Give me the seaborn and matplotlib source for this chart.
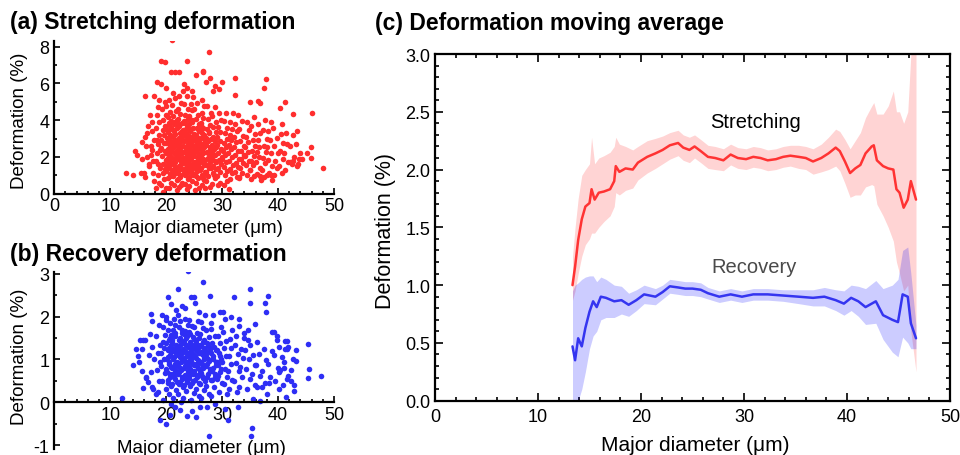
import matplotlib
matplotlib.use("Agg")
import numpy as np
import pandas as pd
import matplotlib.pyplot as plt
import seaborn as sns
from matplotlib.ticker import MultipleLocator, FormatStrFormatter

# ---------------- (a) stretching deformation scatter: (major diameter um, deformation %)
stretch_pts = [
    (12.8,1.11),(14.1,1.04),(14.5,2.32),(14.8,2.1),(15.6,2.79),(16.3,3.11),(15.7,1.9),(15.5,1.1),
    (16.3,5.33),(16.1,1.1),(16.5,2.0),(16.8,3.7),(16.4,2.6),(16.9,1.5),(16.6,3.3),(16.3,0.9),
    (17.0,1.6),(17.3,2.6),(17.5,3.4),(17.8,5.33),(17.6,1.1),(17.2,2.1),(17.9,2.9),(17.4,3.9),
    (17.7,1.8),(17.1,4.3),(17.8,0.7),(17.5,2.4),
    (18.2,0.3),(19.4,0.1),(18.4,6.06),(19.0,5.95),(20.0,5.73),(18.6,4.7),(18.3,2.2),(18.7,3.9),
    (18.9,1.4),(18.1,1.8),(18.5,2.7),(18.8,3.2),(18.2,3.6),(18.6,1.0),(18.4,4.3),(18.9,2.4),
    (18.7,0.6),(18.3,2.95),(18.5,1.6),(18.8,5.1),
    (21.0,8.35),(27.7,7.7),(19.0,7.2),(19.7,7.15),(23.8,7.2),(20.8,6.65),(21.5,6.6),(22.3,6.6),
    (25.3,6.45),(26.5,6.7),(26.6,6.6),(32.3,6.31),(27.9,6.3),(27.2,6.1),(30.0,6.06),(37.9,6.24),
    (37.5,5.77),(23.2,5.95),(23.8,5.77),(24.7,5.59),(28.3,5.59),(29.5,5.7),(28.7,5.88),(32.3,5.37),
    (34.9,5.0),(36.5,5.04),(36.8,4.93),(41.2,5.0),(40.4,4.64),(46.1,4.39),(42.6,4.35),(43.4,3.41),
    (45.9,2.54),(45.9,1.96),(48.1,1.38),(31.3,0.27),
    (43.9,2.21),(45.2,2.21),(44.3,1.9),(42.7,1.8),(42.1,1.71),(43.6,1.62),(38.7,1.04),(38.1,1.0),
    (36.7,0.95),(36.9,0.77),(35.1,0.82),(33.0,0.9),
    (19.9,0.3),(22.6,0.45),(25.2,0.2),(27.0,0.3),(29.2,0.45),(30.3,0.5),
    (19.15,0.45),(19.65,0.8),(19.35,1.1),(19.85,1.35),(19.45,1.6),(19.95,1.85),(19.25,2.05),
    (19.75,2.3),(19.05,2.5),(19.55,2.75),(19.15,2.95),(19.65,3.2),(19.35,3.45),(19.85,3.7),
    (19.45,4.0),(19.95,4.3),(19.25,4.6),(19.75,5.0),
    (20.45,0.3),(20.95,0.6),(20.25,0.85),(20.75,1.05),(20.05,1.25),(20.55,1.4),(20.15,1.55),
    (20.65,1.7),(20.35,1.85),(20.85,2.0),(20.45,2.15),(20.95,2.3),(20.25,2.45),(20.75,2.6),
    (20.05,2.75),(20.55,2.9),(20.15,3.05),(20.65,3.2),(20.35,3.35),(20.85,3.55),(20.45,3.75),
    (20.95,3.95),(20.25,4.2),(20.75,4.45),(20.05,4.75),(20.55,5.1),
    (20.7,0.95),(20.2,1.33),(20.9,1.62),(20.4,1.93),(20.0,2.22),(20.6,2.52),(20.3,2.82),
    (20.8,3.12),(20.1,3.45),(20.5,3.85),
    (21.85,0.2),(21.45,0.5),(21.95,0.75),(21.25,0.95),(21.75,1.15),(21.05,1.3),(21.55,1.45),
    (21.15,1.6),(21.65,1.75),(21.35,1.9),(21.85,2.05),(21.45,2.2),(21.95,2.35),(21.25,2.5),
    (21.75,2.65),(21.05,2.8),(21.55,2.95),(21.15,3.1),(21.65,3.25),(21.35,3.4),(21.85,3.6),
    (21.45,3.8),(21.95,4.0),(21.25,4.25),(21.75,4.5),(21.05,4.85),(21.55,5.2),(21.15,5.5),
    (21.3,1.05),(21.8,1.37),(21.1,1.68),(21.6,1.97),(21.9,2.27),(21.2,2.57),(21.7,2.87),
    (21.4,3.17),(21.0,3.5),(21.5,3.9),
    (22.25,0.35),(22.75,0.6),(22.05,0.82),(22.55,1.02),(22.15,1.22),(22.65,1.37),(22.35,1.52),
    (22.85,1.67),(22.45,1.82),(22.95,1.97),(22.25,2.12),(22.75,2.27),(22.05,2.42),(22.55,2.57),
    (22.15,2.72),(22.65,2.87),(22.35,3.02),(22.85,3.17),(22.45,3.32),(22.95,3.47),(22.25,3.67),
    (22.75,3.87),(22.05,4.07),(22.55,4.32),(22.15,4.6),(22.65,4.95),(22.35,5.3),
    (22.5,0.92),(22.0,1.3),(22.7,1.6),(22.3,1.9),(22.9,2.2),(22.4,2.5),(22.1,2.8),(22.6,3.1),
    (22.8,3.4),(22.2,3.77),
    (23.65,0.25),(23.35,0.55),(23.85,0.8),(23.45,1.0),(23.95,1.2),(23.25,1.35),(23.75,1.5),
    (23.05,1.65),(23.55,1.8),(23.15,1.95),(23.65,2.1),(23.35,2.25),(23.85,2.4),(23.45,2.55),
    (23.95,2.7),(23.25,2.85),(23.75,3.0),(23.05,3.15),(23.55,3.3),(23.15,3.45),(23.65,3.65),
    (23.35,3.85),(23.85,4.05),(23.45,4.3),(23.95,4.6),(23.25,4.9),(23.75,5.3),(23.05,5.6),
    (23.1,1.1),(23.6,1.42),(23.3,1.72),(23.8,2.02),(23.5,2.32),(23.0,2.62),(23.9,2.92),
    (23.4,3.22),(23.7,3.55),(23.2,3.95),
    (24.05,0.4),(24.55,0.7),(24.15,0.92),(24.65,1.1),(24.35,1.28),(24.85,1.43),(24.45,1.58),
    (24.95,1.73),(24.25,1.88),(24.75,2.03),(24.05,2.18),(24.55,2.33),(24.15,2.48),(24.65,2.63),
    (24.35,2.78),(24.85,2.93),(24.45,3.08),(24.95,3.23),(24.25,3.4),(24.75,3.6),(24.05,3.8),
    (24.55,4.0),(24.15,4.25),(24.65,4.55),(24.35,4.9),(24.85,5.25),
    (24.8,1.0),(24.3,1.35),(24.0,1.65),(24.5,1.95),(24.2,2.25),(24.9,2.55),(24.6,2.85),
    (24.1,3.15),(24.4,3.5),(24.7,3.9),
    (25.95,0.3),(25.25,0.6),(25.75,0.85),(25.05,1.05),(25.55,1.25),(25.15,1.4),(25.65,1.55),
    (25.35,1.7),(25.85,1.85),(25.45,2.0),(25.95,2.15),(25.25,2.3),(25.75,2.45),(25.05,2.6),
    (25.55,2.75),(25.15,2.9),(25.65,3.05),(25.35,3.2),(25.85,3.4),(25.45,3.6),(25.95,3.8),
    (25.25,4.05),(25.75,4.3),(25.05,4.6),(25.55,4.95),
    (25.4,0.95),(25.9,1.32),(25.2,1.62),(25.7,1.92),(25.0,2.22),(25.5,2.52),(25.8,2.82),
    (25.3,3.12),(25.6,3.5),
    (26.35,0.45),(26.85,0.75),(26.45,1.0),(26.95,1.2),(26.25,1.38),(26.75,1.55),(26.05,1.72),
    (26.55,1.88),(26.15,2.04),(26.65,2.2),(26.35,2.36),(26.85,2.52),(26.45,2.68),(26.95,2.85),
    (26.25,3.02),(26.75,3.2),(26.05,3.4),(26.55,3.6),(26.15,3.85),(26.65,4.1),(26.35,4.4),
    (26.85,4.75),(26.45,5.1),
    (26.6,0.88),(26.1,1.3),(26.8,1.63),(26.3,1.96),(26.5,2.28),(26.0,2.6),(26.9,2.93),
    (26.4,3.3),(26.2,3.72),
    (27.75,0.35),(27.05,0.7),(27.55,0.95),(27.15,1.18),(27.65,1.38),(27.35,1.57),(27.85,1.75),
    (27.45,1.93),(27.95,2.1),(27.25,2.28),(27.75,2.46),(27.05,2.65),(27.55,2.85),(27.15,3.05),
    (27.65,3.28),(27.35,3.5),(27.85,3.75),(27.45,4.05),(27.95,4.4),(27.25,4.8),
    (27.2,1.05),(27.7,1.47),(27.0,1.84),(27.5,2.19),(27.9,2.55),(27.4,2.95),(27.6,3.38),
    (28.15,0.55),(28.65,0.85),(28.35,1.1),(28.85,1.32),(28.45,1.52),(28.95,1.72),(28.25,1.9),
    (28.75,2.08),(28.05,2.27),(28.55,2.46),(28.15,2.66),(28.65,2.88),(28.35,3.1),(28.85,3.35),
    (28.45,3.62),(28.95,3.9),(28.25,4.25),(28.75,4.7),
    (28.5,1.0),(28.0,1.42),(28.7,1.8),(28.3,2.17),(28.9,2.56),(28.1,2.98),
    (29.55,0.6),(29.15,0.95),(29.65,1.2),(29.35,1.42),(29.85,1.63),(29.45,1.83),(29.95,2.02),
    (29.25,2.22),(29.75,2.42),(29.05,2.63),(29.55,2.85),(29.15,3.1),(29.65,3.35),(29.35,3.65),
    (29.85,4.0),(29.45,4.4),
    (30.85,0.7),(30.45,1.0),(30.95,1.25),(30.25,1.48),(30.75,1.7),(30.05,1.9),(30.55,2.1),
    (30.15,2.3),(30.65,2.52),(30.35,2.75),(30.85,3.0),(30.45,3.28),(30.95,3.6),(30.25,3.95),
    (30.75,4.4),
    (31.35,0.8),(31.85,1.1),(31.45,1.35),(31.95,1.58),(31.25,1.8),(31.75,2.0),(31.05,2.2),
    (31.55,2.42),(31.15,2.65),(31.65,2.9),(31.35,3.18),(31.85,3.5),(31.45,3.9),(31.95,4.4),
    (32.65,0.9),(32.35,1.2),(32.85,1.45),(32.45,1.68),(32.95,1.9),(32.25,2.1),(32.75,2.32),
    (32.05,2.55),(32.55,2.8),(32.15,3.08),(32.65,3.4),(32.35,3.8),(32.85,4.3),
    (33.05,0.85),(33.55,1.15),(33.15,1.42),(33.65,1.65),(33.35,1.88),(33.85,2.1),(33.45,2.33),
    (33.95,2.58),(33.25,2.85),(33.75,3.15),(33.05,3.5),(33.55,3.95),
    (34.45,1.0),(34.95,1.3),(34.25,1.55),(34.75,1.8),(34.05,2.03),(34.55,2.27),(34.15,2.52),
    (34.65,2.8),(34.35,3.1),(34.85,3.45),(34.45,3.9),
    (35.75,0.95),(35.05,1.28),(35.55,1.55),(35.15,1.8),(35.65,2.05),(35.35,2.3),(35.85,2.58),
    (35.45,2.9),(35.95,3.25),(35.25,3.7),(35.75,4.2),
    (36.25,1.05),(36.75,1.4),(36.05,1.7),(36.55,1.98),(36.15,2.25),(36.65,2.55),(36.35,2.9),
    (36.85,3.3),(36.45,3.8),
    (37.55,0.9),(37.15,1.3),(37.65,1.65),(37.35,1.95),(37.85,2.25),(37.45,2.6),(37.95,3.0),
    (37.25,3.45),(37.75,4.0),
    (38.85,0.75),(38.45,1.15),(38.95,1.5),(38.25,1.85),(38.75,2.2),(38.05,2.55),(38.55,2.95),
    (38.15,3.4),(38.65,3.9),
    (39.35,1.0),(39.85,1.4),(39.45,1.8),(39.95,2.2),(39.25,2.6),(39.75,3.05),(39.05,3.6),
    (40.65,1.1),(40.15,1.5),(40.85,1.9),(40.35,2.3),(40.95,2.75),(40.45,3.25),(40.75,3.8),
    (41.25,1.3),(41.75,1.75),(41.05,2.2),(41.55,2.7),(41.35,3.3),
    (42.45,1.6),(42.85,2.0),(42.15,2.6),(42.65,3.2),
    (43.35,1.5),(43.75,1.9),(43.15,2.7),
]

# ---------------- (b) recovery deformation scatter
recovery_pts = [
    (23.9,3.06),(26.5,2.82),(22.1,2.64),(34.9,2.64),(20.3,2.47),(24.4,2.46),(24.9,2.46),(27.9,2.49),
    (32.2,2.46),(38.2,2.49),(37.7,2.33),(35.0,2.33),(25.2,2.32),(20.9,2.29),(37.9,2.12),(17.3,2.06),
    (29.7,2.12),(30.2,2.12),(45.4,1.36),(45.6,0.78),(45.4,0.57),(47.6,0.62),(43.2,0.96),(42.9,0.4),
    (42.9,0.26),(12.1,0.1),(14.0,0.87),(14.6,1.25),(15.8,1.45),(19.9,-0.5),(18.9,-0.41),(20.6,-0.3),
    (23.8,-0.33),(27.6,-0.78),(35.3,-0.6),(35.2,-0.79),(26.1,-0.12),(27.3,-0.1),(32.9,-0.1),
    (31.0,-0.42),(22.4,-0.18),
    (33.0,1.95),(33.0,1.78),(34.0,1.61),(34.6,1.7),(35.8,1.83),(38.9,1.64),(39.3,1.64),(39.8,1.55),
    (41.3,1.44),(41.6,1.44),(41.3,1.24),(41.6,1.24),(43.2,1.22),(42.3,0.76),(41.1,0.79),(40.1,0.7),
    (41.7,0.61),(40.2,0.31),(41.4,0.12),(38.0,0.19),(37.2,0.36),(36.7,0.04),(35.5,0.08),
    (15.4,1.46),(15.7,1.24),(14.9,1.07),(15.2,0.95),(15.7,0.72),(16.4,0.56),(16.7,0.47),(17.5,0.36),
    (18.5,0.25),(15.9,0.33),
    (21.8,2.15),(23.3,2.2),(25.8,2.1),(28.3,2.05),(30.6,1.95),(31.6,2.0),(26.9,2.05),(19.2,2.05),
    (22.8,2.25),(24.7,-0.2),(28.8,-0.05),(30.5,-0.15),(21.5,-0.1),(25.4,-0.35),
    (16.45,0.6),(16.85,1.1),(16.25,1.45),
    (17.65,0.3),(17.25,0.7),(17.85,1.0),(17.45,1.3),(17.05,1.6),(17.55,1.9),
    (18.15,0.2),(18.65,0.5),(18.35,0.75),(18.85,0.95),(18.45,1.15),(18.95,1.35),(18.25,1.55),(18.75,1.8),
    (19.45,0.05),(19.95,0.3),(19.25,0.5),(19.75,0.68),(19.05,0.84),(19.55,1.0),(19.15,1.14),
    (19.65,1.28),(19.35,1.42),(19.85,1.58),(19.45,1.75),(19.95,1.92),
    (20.85,-0.05),(20.45,0.2),(20.95,0.38),(20.25,0.52),(20.75,0.65),(20.05,0.77),(20.55,0.89),
    (20.15,1.0),(20.65,1.11),(20.35,1.22),(20.85,1.33),(20.45,1.45),(20.95,1.57),(20.25,1.7),
    (20.75,1.85),(20.05,2.0),
    (20.35,0.45),(20.65,0.58),(20.15,0.71),(20.85,0.83),(20.45,0.95),(20.25,1.06),(20.95,1.17),
    (20.55,1.28),(20.05,1.39),(20.75,1.51),
    (21.25,0.1),(21.75,0.28),(21.05,0.42),(21.55,0.54),(21.15,0.65),(21.65,0.75),(21.35,0.85),
    (21.85,0.95),(21.45,1.05),(21.95,1.15),(21.25,1.25),(21.75,1.35),(21.05,1.45),(21.55,1.56),
    (21.15,1.68),(21.65,1.8),(21.35,1.95),
    (21.85,0.48),(21.35,0.6),(21.95,0.7),(21.05,0.8),(21.6,0.9),(21.2,1.0),(21.7,1.1),(21.4,1.2),
    (21.9,1.3),(21.1,1.4),(21.5,1.62),
    (22.65,0.0),(22.15,0.2),(22.95,0.35),(22.45,0.48),(22.75,0.6),(22.25,0.7),(22.55,0.8),
    (22.05,0.9),(22.85,1.0),(22.35,1.1),(22.65,1.2),(22.15,1.3),(22.95,1.4),(22.45,1.5),
    (22.75,1.62),(22.25,1.75),(22.55,1.9),(22.05,2.05),
    (22.3,0.42),(22.8,0.54),(22.1,0.65),(22.6,0.75),(22.2,0.85),(22.7,0.95),(22.4,1.05),(22.9,1.15),
    (22.0,1.25),(22.5,1.35),(22.25,1.45),(22.85,1.7),
    (23.05,0.1),(23.55,0.27),(23.15,0.41),(23.65,0.53),(23.35,0.64),(23.85,0.74),(23.45,0.84),
    (23.95,0.94),(23.25,1.04),(23.75,1.14),(23.05,1.24),(23.55,1.34),(23.15,1.44),(23.65,1.55),
    (23.35,1.67),(23.85,1.8),(23.45,1.95),
    (23.8,0.47),(23.3,0.58),(23.9,0.69),(23.1,0.79),(23.6,0.89),(23.2,0.99),(23.7,1.09),(23.4,1.19),
    (23.9,1.29),(23.0,1.39),(23.5,1.5),(23.2,1.6),
    (24.45,0.05),(24.95,0.22),(24.25,0.37),(24.75,0.5),(24.05,0.62),(24.55,0.72),(24.15,0.82),
    (24.65,0.92),(24.35,1.02),(24.85,1.12),(24.45,1.22),(24.95,1.32),(24.25,1.42),(24.75,1.53),
    (24.05,1.65),(24.55,1.78),(24.15,1.92),
    (24.6,0.44),(24.1,0.56),(24.8,0.67),(24.3,0.77),(24.9,0.87),(24.0,0.97),(24.5,1.07),(24.2,1.17),
    (24.7,1.27),(24.4,1.37),(24.9,1.48),(24.3,1.59),
    (25.85,0.15),(25.35,0.32),(25.95,0.46),(25.45,0.58),(25.05,0.69),(25.65,0.79),(25.25,0.89),
    (25.75,0.99),(25.15,1.09),(25.55,1.19),(25.85,1.29),(25.35,1.39),(25.95,1.5),(25.45,1.62),
    (25.05,1.75),(25.65,1.9),
    (25.2,0.52),(25.7,0.63),(25.0,0.74),(25.5,0.84),(25.9,0.94),(25.3,1.04),(25.8,1.14),(25.1,1.24),
    (25.6,1.34),(25.4,1.45),
    (26.25,0.1),(26.75,0.28),(26.05,0.43),(26.55,0.56),(26.15,0.68),(26.65,0.79),(26.35,0.9),
    (26.85,1.01),(26.45,1.12),(26.95,1.23),(26.25,1.34),(26.75,1.46),(26.05,1.59),(26.55,1.73),
    (26.15,1.88),
    (26.9,0.5),(26.4,0.62),(26.0,0.73),(26.6,0.84),(26.2,0.95),(26.7,1.06),(26.3,1.17),(26.8,1.28),
    (26.5,1.4),
    (27.65,0.2),(27.15,0.38),(27.95,0.53),(27.45,0.66),(27.75,0.78),(27.25,0.9),(27.55,1.02),
    (27.05,1.14),(27.85,1.26),(27.35,1.39),(27.65,1.53),(27.15,1.68),(27.95,1.85),
    (27.3,0.6),(27.8,0.72),(27.1,0.84),(27.6,0.96),(27.2,1.08),(27.9,1.2),(27.4,1.32),
    (28.05,0.15),(28.55,0.35),(28.15,0.52),(28.65,0.67),(28.35,0.81),(28.85,0.95),(28.45,1.09),
    (28.95,1.23),(28.25,1.38),(28.75,1.54),(28.05,1.72),
    (28.7,0.6),(28.2,0.74),(28.9,0.88),(28.4,1.02),(28.1,1.16),(28.6,1.3),
    (29.45,0.25),(29.95,0.45),(29.25,0.62),(29.75,0.78),(29.05,0.93),(29.55,1.08),(29.15,1.23),
    (29.65,1.39),(29.35,1.56),(29.85,1.75),
    (29.1,0.55),(29.6,0.7),(29.3,0.86),(29.8,1.0),(29.4,1.15),
    (30.85,0.2),(30.35,0.42),(30.95,0.6),(30.45,0.77),(30.05,0.93),(30.65,1.09),(30.25,1.26),
    (30.75,1.44),(30.15,1.65),
    (31.25,0.3),(31.75,0.52),(31.05,0.72),(31.55,0.9),(31.15,1.08),(31.65,1.27),(31.35,1.48),(31.85,1.7),
    (32.65,0.25),(32.15,0.5),(32.95,0.72),(32.45,0.92),(32.75,1.12),(32.25,1.33),(32.55,1.56),
    (33.05,0.35),(33.55,0.6),(33.15,0.82),(33.65,1.03),(33.35,1.25),(33.85,1.5),
    (34.45,0.3),(34.95,0.55),(34.25,0.78),(34.75,1.0),(34.05,1.22),(34.55,1.45),
    (35.85,0.4),(35.35,0.65),(35.95,0.88),(35.45,1.1),(35.05,1.35),
    (36.25,0.35),(36.75,0.62),(36.05,0.87),(36.55,1.12),(36.15,1.4),
    (37.65,0.45),(37.15,0.72),(37.85,0.98),(37.45,1.25),
    (38.55,0.6),(38.15,0.9),(38.85,1.2),(38.35,0.45),
    (39.45,0.5),(39.95,0.8),(39.25,1.1),(39.75,1.45),
    (40.85,0.4),(40.35,0.75),(40.65,1.05),(40.15,1.3),
    (41.55,0.55),(41.05,0.95),(41.85,1.3),
    (42.35,0.5),(42.75,1.0),
]

# ---------------- (c) moving averages with bands
ma_stretch_d = [13.35, 13.6, 13.9, 14.25, 14.6, 15.0, 15.2, 15.5, 15.9, 16.4, 17.0, 17.4, 17.55, 17.9,
                18.5, 19.2, 19.7, 20.6, 21.4, 22.1, 22.8, 23.6, 24.1, 24.7, 25.2, 25.8, 26.5, 27.2,
                28.0, 28.7, 29.4, 30.2, 30.9, 31.6, 32.3, 33.1, 33.8, 34.5, 35.3, 36.0, 36.7, 37.5,
                38.2, 38.9, 39.3, 39.8, 40.3, 40.8, 41.3, 41.8, 42.4, 42.6, 42.9, 43.5, 44.0, 44.5,
                44.8, 45.1, 45.5, 45.9, 46.2, 46.7]
ma_stretch = [1.00, 1.16, 1.39, 1.57, 1.68, 1.71, 1.83, 1.74, 1.80, 1.81, 1.83, 1.90, 2.03, 1.98,
              2.01, 2.00, 2.06, 2.11, 2.14, 2.17, 2.21, 2.23, 2.19, 2.17, 2.20, 2.16, 2.11, 2.10,
              2.08, 2.13, 2.10, 2.09, 2.11, 2.10, 2.08, 2.09, 2.11, 2.12, 2.11, 2.10, 2.07, 2.10,
              2.14, 2.19, 2.16, 2.07, 1.97, 2.01, 2.04, 2.14, 2.20, 2.21, 2.08, 2.03, 2.01, 2.00,
              1.83, 1.80, 1.67, 1.74, 1.90, 1.74]
ma_stretch_lo = [0.87, 0.95, 1.1, 1.25, 1.35, 1.4, 1.45, 1.45, 1.5, 1.55, 1.6, 1.68, 1.8, 1.78,
                 1.82, 1.84, 1.91, 1.97, 2.01, 2.05, 2.09, 2.12, 2.08, 2.06, 2.1, 2.06, 2.01, 2.0,
                 1.99, 2.04, 2.01, 2.0, 2.02, 2.01, 1.99, 2.0, 2.02, 2.03, 2.01, 2.0, 1.96, 1.98,
                 2.0, 2.03, 1.99, 1.88, 1.76, 1.78, 1.78, 1.85, 1.87, 1.86, 1.7, 1.6, 1.5, 1.38,
                 1.2, 1.1, 0.95, 1.0, 0.6, 0.25]
ma_stretch_hi = [1.25, 1.5, 1.75, 1.95, 2.0, 2.05, 2.28, 2.05, 2.1, 2.12, 2.15, 2.2, 2.28, 2.22,
                 2.2, 2.17, 2.2, 2.25, 2.27, 2.29, 2.32, 2.34, 2.3, 2.28, 2.3, 2.26, 2.21, 2.2,
                 2.18, 2.22, 2.19, 2.18, 2.2, 2.19, 2.17, 2.18, 2.2, 2.21, 2.21, 2.2, 2.18, 2.22,
                 2.28, 2.35, 2.33, 2.26, 2.18, 2.25, 2.32, 2.45, 2.55, 2.58, 2.48, 2.48, 2.55, 2.68,
                 2.5, 2.5, 2.4, 2.5, 3.0, 3.2]

ma_recov_d = [13.35, 13.6, 13.9, 14.25, 14.6, 15.0, 15.35, 15.7, 16.1, 16.6, 17.4, 18.1, 18.8, 19.55,
              20.3, 21.4, 22.1, 22.8, 23.6, 24.3, 25.0, 25.8, 26.5, 27.6, 28.7, 29.8, 30.9, 32.3,
              33.8, 35.3, 36.7, 37.8, 38.9, 39.7, 40.4, 41.1, 41.8, 42.8, 43.5, 44.4, 44.95, 45.4,
              45.9, 46.2, 46.7]
ma_recov = [0.47, 0.35, 0.54, 0.47, 0.63, 0.77, 0.86, 0.81, 0.90, 0.89, 0.86, 0.87, 0.83, 0.87,
            0.92, 0.90, 0.94, 0.99, 0.98, 0.97, 0.97, 0.96, 0.93, 0.90, 0.92, 0.90, 0.92, 0.92,
            0.91, 0.90, 0.89, 0.90, 0.87, 0.84, 0.89, 0.86, 0.81, 0.86, 0.74, 0.70, 0.68, 0.92,
            0.90, 0.67, 0.54]
ma_recov_lo = [0.0, 0.0, 0.0, 0.1, 0.25, 0.45, 0.56, 0.6, 0.7, 0.72, 0.72, 0.75, 0.73, 0.78,
               0.84, 0.83, 0.88, 0.93, 0.92, 0.91, 0.91, 0.9, 0.88, 0.85, 0.87, 0.85, 0.87, 0.87,
               0.86, 0.84, 0.82, 0.82, 0.78, 0.74, 0.78, 0.73, 0.66, 0.67, 0.53, 0.42, 0.38, 0.55,
               0.5, 0.45, 0.45]
ma_recov_hi = [0.95, 1.0, 1.02, 1.05, 1.07, 1.08, 1.08, 1.03, 1.07, 1.05, 1.0, 0.99, 0.93, 0.96,
               1.0, 0.97, 1.0, 1.05, 1.04, 1.03, 1.03, 1.02, 0.98, 0.95, 0.97, 0.95, 0.97, 0.97,
               0.96, 0.96, 0.96, 0.98, 0.96, 0.95, 1.0, 0.99, 0.97, 1.04, 0.97, 1.0, 1.05, 1.3,
               1.33, 1.1, 0.65]

x_major = [0, 10, 20, 30, 40, 50]
a_xticklabels = ["0", "10", "20", "30", "40", "50"]
b_xticklabels = ["", "10", "20", "30", "40", "50"]
a_yticks = [0, 2, 4, 6, 8]
b_yticks = [-1, 0, 1, 2, 3]

# ---------------- styling
sns.set_style("ticks")
plt.rcParams['font.family'] = ['Liberation Sans', 'DejaVu Sans']
plt.rcParams['axes.unicode_minus'] = False
plt.rcParams['text.color'] = 'black'
plt.rcParams['axes.labelcolor'] = 'black'
plt.rcParams['xtick.color'] = 'black'
plt.rcParams['ytick.color'] = 'black'

RED_PT = '#ff2e2e'
BLUE_PT = '#2e2ef5'
RED_LN = '#ff3333'
BLUE_LN = '#3535f0'

W, H = 960.0, 456.0
fig = plt.figure(figsize=(9.6, 4.56), dpi=100)
fig.patch.set_facecolor('white')

axA = fig.add_axes([54.3 / W, 1 - 194.7 / H, 279.7 / W, 153.0 / H])
axB = fig.add_axes([54.3 / W, 1 - 450.0 / H, 279.7 / W, 177.3 / H])
axC = fig.add_axes([435.0 / W, 1 - 401.7 / H, 515.0 / W, 346.7 / H])

dfA = pd.DataFrame(stretch_pts, columns=['d', 'v'])
dfB = pd.DataFrame(recovery_pts, columns=['d', 'v'])
sns.scatterplot(data=dfA, x='d', y='v', ax=axA, color=RED_PT, s=16, linewidth=0, legend=False)
sns.scatterplot(data=dfB, x='d', y='v', ax=axB, color=BLUE_PT, s=16, linewidth=0, legend=False)


def style_scatter(ax, ylim, yticks, yminor, xlabels):
    ax.set_xlim(0, 50)
    ax.set_ylim(*ylim)
    for s in ['top', 'right']:
        ax.spines[s].set_visible(False)
    for s in ['left', 'bottom']:
        ax.spines[s].set_linewidth(1.6)
        ax.spines[s].set_color('black')
    ax.set_xticks(x_major)
    ax.set_xticklabels(xlabels)
    ax.xaxis.set_minor_locator(MultipleLocator(2))
    ax.set_yticks(yticks)
    ax.yaxis.set_minor_locator(MultipleLocator(yminor))
    ax.tick_params(which='both', direction='in', labelsize=13, width=1.2, colors='black')
    ax.tick_params(which='major', length=4)
    ax.tick_params(which='minor', length=2.2)
    ax.tick_params(axis='x', pad=2.5)
    ax.tick_params(axis='y', pad=3.5)
    ax.set_xlabel('Major diameter (μm)', fontsize=13.5, color='black')
    ax.set_ylabel('Deformation (%)', fontsize=13.5, color='black')
    ax.xaxis.label.set_verticalalignment('center')
    ax.yaxis.label.set_verticalalignment('center')


style_scatter(axA, (0, 8.33), a_yticks, 1, a_xticklabels)
axA.xaxis.set_label_coords(0.514, -0.218)
axA.yaxis.set_label_coords(-0.123, 0.482)

style_scatter(axB, (-1.09, 3.05), b_yticks, 0.5, b_xticklabels)
axB.spines['bottom'].set_position(('data', 0))
axB.xaxis.set_label_coords(0.527, 0.011)
axB.yaxis.set_label_coords(-0.123, 0.525)

# ---------------- panel (c)
axC.fill_between(ma_stretch_d, ma_stretch_lo, ma_stretch_hi, color='#ff0000', alpha=0.17,
                 linewidth=0, zorder=1)
axC.fill_between(ma_recov_d, ma_recov_lo, ma_recov_hi, color='#0000ff', alpha=0.2,
                 linewidth=0, zorder=1.5)
sns.lineplot(x=ma_stretch_d, y=ma_stretch, ax=axC, color=RED_LN, linewidth=1.8,
             estimator=None, sort=False, zorder=3)
sns.lineplot(x=ma_recov_d, y=ma_recov, ax=axC, color=BLUE_LN, linewidth=1.8,
             estimator=None, sort=False, zorder=3)

axC.set_xlim(0, 50)
axC.set_ylim(0, 3)
for s in axC.spines.values():
    s.set_linewidth(1.6)
    s.set_color('black')
axC.xaxis.set_major_locator(MultipleLocator(10))
axC.xaxis.set_minor_locator(MultipleLocator(2))
axC.yaxis.set_major_locator(MultipleLocator(0.5))
axC.yaxis.set_minor_locator(MultipleLocator(0.1))
axC.yaxis.set_major_formatter(FormatStrFormatter('%.1f'))
axC.tick_params(which='both', direction='in', top=True, right=True, labelsize=13,
                width=1.2, colors='black')
axC.tick_params(which='major', length=5.5)
axC.tick_params(which='minor', length=2.8)
axC.tick_params(axis='x', pad=5)
axC.tick_params(axis='y', pad=3.5)
axC.set_xlabel('Major diameter (μm)', fontsize=15, color='black')
axC.set_ylabel('Deformation (%)', fontsize=15.5, color='black')
axC.xaxis.label.set_verticalalignment('center')
axC.yaxis.label.set_verticalalignment('center')
axC.xaxis.set_label_coords(0.505, -0.125)
axC.yaxis.set_label_coords(-0.097, 0.493)

axC.text(31.07, 2.42, 'Stretching', ha='center', va='center', fontsize=14.5, color='black')
axC.text(30.96, 1.16, 'Recovery', ha='center', va='center', fontsize=14.5, color='#4a4a4a')

# ---------------- panel titles
fig.text(10 / W, 1 - 23 / H, '(a) Stretching deformation', fontsize=16.5, fontweight='bold',
         ha='left', va='center', color='black')
fig.text(10 / W, 1 - 255 / H, '(b) Recovery deformation', fontsize=16.5, fontweight='bold',
         ha='left', va='center', color='black')
fig.text(375 / W, 1 - 24 / H, '(c) Deformation moving average', fontsize=16.5, fontweight='bold',
         ha='left', va='center', color='black')

fig.savefig('out.png', dpi=100, facecolor='white')
